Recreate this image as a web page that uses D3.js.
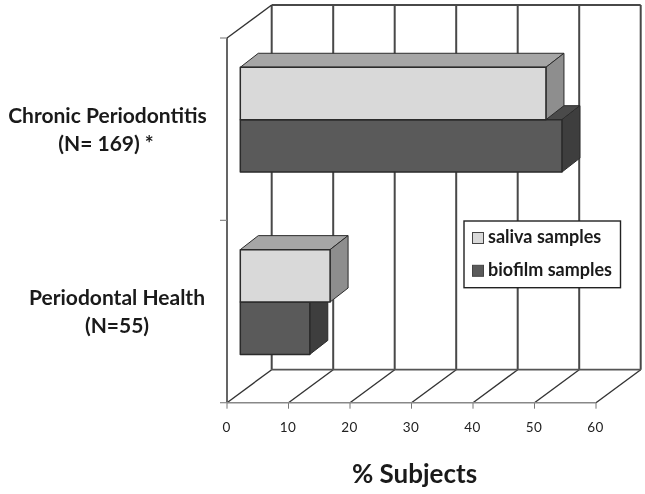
<!DOCTYPE html>
<html><head><meta charset="utf-8">
<script src="https://cdn.jsdelivr.net/npm/d3@7"></script>
<style>html,body{margin:0;background:#fff}svg{display:block;filter:blur(0.35px)}text{font-family:Lato,"Open Sans",sans-serif}</style>
</head><body><div id="c"></div>
<script>
const categories = ["Chronic Periodontitis (N= 169) *", "Periodontal Health (N=55)"];
const categoryLines = [["Chronic Periodontitis", "(N= 169) *"], ["Periodontal Health", "(N=55)"]];
const seriesNames = ["saliva samples", "biofilm samples"];
const salivaValues = [49.7, 14.6];
const biofilmValues = [52.3, 11.3];
const xTicks = [0, 10, 20, 30, 40, 50, 60];
const xTitle = "% Subjects";

const W = 645, H = 494;
const svg = d3.select("#c").append("svg").attr("width", W).attr("height", H);
const x = d3.scaleLinear().domain([0, 60]).range([227, 596]);
const y = d3.scaleBand().domain(categories).range([38, 402.7]);
const wall = {dx: 44.7, dy: -33};
const plane = {dx: 13.3, dy: -9.5};
const depth = {dx: 18, dy: -14};
const barH = 52.4;
const gridCol = "#484848", gridW = 2;
const line = (a, b, c, w) => svg.append("line").attr("x1", a[0]).attr("y1", a[1]).attr("x2", b[0]).attr("y2", b[1])
  .attr("stroke", c || gridCol).attr("stroke-width", w || gridW);

const yTop = y.range()[0], yBot = y.range()[1];
// back wall and floor gridlines
xTicks.forEach(t => {
  const fx = x(t);
  line([fx + wall.dx, yTop + wall.dy], [fx + wall.dx, yBot + wall.dy]);
  line([fx, yBot], [fx + wall.dx, yBot + wall.dy], "#333", 1.4);
  line([fx, yBot], [fx, yBot + 6], "#777", 1);
});
line([x(0) + wall.dx, yTop + wall.dy], [x(60) + wall.dx, yTop + wall.dy]);
line([x(0) + wall.dx, yBot + wall.dy], [x(60) + wall.dx, yBot + wall.dy], "#555", 1.8);
// left wall
line([x(0), yTop], [x(0), yBot], "#555", 1.8);
line([x(0), yTop], [x(0) + wall.dx, yTop + wall.dy], "#333", 1.4);
line([x(0), yBot], [x(60), yBot], "#888", 1.6);
[yTop, y(categories[1]) + y.bandwidth() * 0, yBot].forEach(v => line([x(0) - 7, v], [x(0), v], "#888", 1.2));

// 3D bars
const pts = a => a.map(p => p.join(",")).join(" ");
const palette = [
  {front: "#d9d9d9", top: "#a6a6a6", side: "#8e8e8e"},
  {front: "#5a5a5a", top: "#4a4a4a", side: "#3e3e3e"}
];
function bar(cat, s, v) {
  const cy = y(cat) + y.bandwidth() / 2 + plane.dy;
  const x0 = x(0) + plane.dx, x1 = x(v) + plane.dx;
  const t = s === 0 ? cy - barH : cy, b = t + barH;
  const c = palette[s];
  const g = svg.append("g").attr("stroke", "#2b2b2b").attr("stroke-width", 1).attr("stroke-linejoin", "round");
  g.append("polygon").attr("fill", c.top).attr("points", pts([[x0, t], [x1, t], [x1 + depth.dx, t + depth.dy], [x0 + depth.dx, t + depth.dy]]));
  g.append("polygon").attr("fill", c.side).attr("points", pts([[x1, t], [x1 + depth.dx, t + depth.dy], [x1 + depth.dx, b + depth.dy], [x1, b]]));
  g.append("rect").attr("x", x0).attr("y", t).attr("width", x1 - x0).attr("height", barH).attr("fill", c.front).attr("stroke-width", 1.5);
}
categories.forEach((cat, i) => { bar(cat, 1, biofilmValues[i]); bar(cat, 0, salivaValues[i]); });

// axis labels
svg.append("g").selectAll("text").data(xTicks).join("text")
  .attr("x", d => x(d) - 0.5).attr("y", 432).attr("text-anchor", "middle")
  .attr("font-size", 13.5).attr("letter-spacing", 0.4).attr("fill", "#222").text(d => d);
svg.append("text").attr("x", 414.5).attr("y", 483).attr("text-anchor", "middle")
  .attr("font-size", 26).attr("font-weight", 700).attr("fill", "#1a1a1a").text(xTitle);

// category labels
const catX = [[107.5, 106], [117, 117]], catY = [[122.7, 151], [305, 333]];
categoryLines.forEach((ls, i) => ls.forEach((l, j) => {
  svg.append("text").attr("x", catX[i][j]).attr("y", catY[i][j])
    .attr("text-anchor", "middle").attr("font-size", 21).attr("font-weight", 700).attr("fill", "#1a1a1a").text(l);
}));

// legend
svg.append("rect").attr("x", 464).attr("y", 221).attr("width", 156.5).attr("height", 66.7)
  .attr("fill", "#fff").attr("stroke", "#222").attr("stroke-width", 1.4);
seriesNames.forEach((n, i) => {
  svg.append("rect").attr("x", 472.5).attr("y", 232.5 + i * 32.8).attr("width", 11).attr("height", 11)
    .attr("fill", palette[i].front).attr("stroke", "#444").attr("stroke-width", 1);
  svg.append("text").attr("x", 488).attr("y", 242.7 + i * 33).attr("font-size", 18).attr("font-weight", 700).attr("fill", "#1a1a1a").text(n);
});
</script></body></html>
